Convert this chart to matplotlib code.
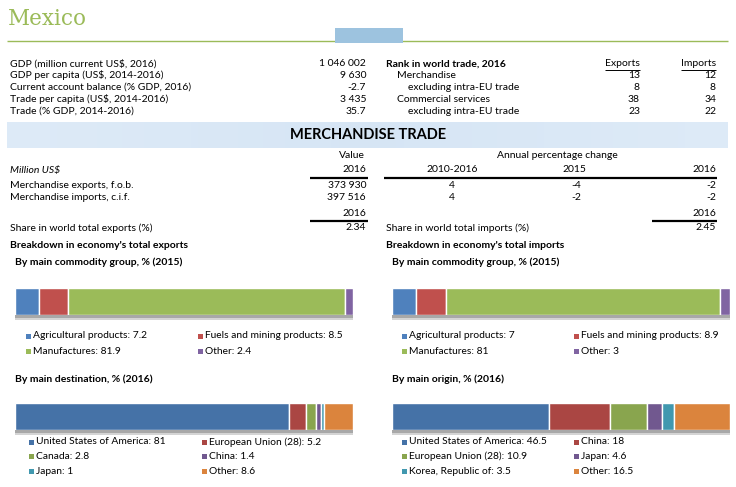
import matplotlib
matplotlib.use("Agg")
import matplotlib.pyplot as plt
from matplotlib.patches import Rectangle
import numpy as np

# ---------------- data ----------------
country = "Mexico"
gdp_labels = ["GDP (million current US$, 2016)", "GDP per capita (US$, 2014-2016)",
              "Current account balance (% GDP, 2016)", "Trade per capita (US$, 2014-2016)",
              "Trade (% GDP, 2014-2016)"]
gdp_values = ["1 046 002", "9 630", "-2.7", "3 435", "35.7"]

rank_labels = ["Merchandise", "excluding intra-EU trade", "Commercial services", "excluding intra-EU trade"]
rank_indent = [1, 2, 1, 2]
rank_exports = [13, 8, 38, 23]
rank_imports = [12, 8, 34, 22]

merch_labels = ["Merchandise exports, f.o.b.", "Merchandise imports, c.i.f."]
merch_value_2016 = ["373 930", "397 516"]
chg_2010_2016 = [4, 4]
chg_2015 = [-4, -2]
chg_2016 = [-2, -2]
share_exports = "2.34"
share_imports = "2.45"

exp_comm_labels = ["Agricultural products", "Fuels and mining products", "Manufactures", "Other"]
exp_comm_values = [7.2, 8.5, 81.9, 2.4]
imp_comm_labels = ["Agricultural products", "Fuels and mining products", "Manufactures", "Other"]
imp_comm_values = [7, 8.9, 81, 3]
dest_labels = ["United States of America", "European Union (28)", "Canada", "China", "Japan", "Other"]
dest_values = [81, 5.2, 2.8, 1.4, 1, 8.6]
orig_labels = ["United States of America", "China", "European Union (28)", "Japan", "Korea, Republic of", "Other"]
orig_values = [46.5, 18, 10.9, 4.6, 3.5, 16.5]

comm_colors = ["#4F81BD", "#C0504D", "#9BBB59", "#8064A2"]
part_colors = ["#4572A7", "#AA4643", "#89A54E", "#71588F", "#4198AF", "#DB843D"]

# ---------------- layout ----------------
W, H = 736, 487
FONT = "Lato"
plt.rcParams["font.family"] = [FONT, "DejaVu Sans"]

fig = plt.figure(figsize=(W / 100, H / 100), dpi=100)
ax = fig.add_axes([0, 0, 1, 1])
ax.set_xlim(0, W)
ax.set_ylim(H, 0)
ax.axis("off")

BS = 7.5  # body size


def T(x, y, s, ha="left", size=BS, weight="normal", style="normal", color="black", family=None):
    kw = {}
    if family:
        kw["family"] = family
    return ax.text(x, y, s, ha=ha, va="center", fontsize=size, fontweight=weight,
                   fontstyle=style, color=color, **kw)


def hline(x0, x1, y, lw=1.0, color="black"):
    ax.plot([x0, x1], [y, y], color=color, lw=lw, solid_capstyle="butt")


# title
ax.text(8, 19, country, ha="left", va="center", fontsize=15.5, color="#9BBB59",
        family=["DejaVu Serif"])
hline(7, 728, 40.5, lw=1.0, color="#9BBB59")
ax.add_patch(Rectangle((335, 28), 68, 15, facecolor="#9DC3DF", edgecolor="none", zorder=3))

# top-left table
ys = [64, 75.5, 87, 99, 111]
for y, lab, val in zip(ys, gdp_labels, gdp_values):
    T(10, y, lab)
    T(366, y, val, ha="right")

# rank table
T(386, ys[0], "Rank in world trade, 2016", weight="bold")
for xr, lab in [(640, "Exports"), (716, "Imports")]:
    T(xr, ys[0], lab, ha="right")
    hline(xr - 35, xr, ys[0] + 6, lw=0.7)
for y, lab, ind, e, i in zip(ys[1:], rank_labels, rank_indent, rank_exports, rank_imports):
    T(386 + 11 * ind, y, lab)
    T(640, y, str(e), ha="right")
    T(716, y, str(i), ha="right")

# header band
grad = np.linspace(0, 1, 200)
grad = 1 - 0.5 * np.abs(grad - 0.5) * 2
band = np.zeros((2, 200, 3))
c_mid = np.array([0.84, 0.90, 0.96])
c_edge = np.array([0.90, 0.94, 0.98])
for k in range(200):
    band[:, k, :] = c_edge + (c_mid - c_edge) * grad[k]
ax.imshow(band, extent=(7, 728, 148, 122), aspect="auto", zorder=0)
ax.set_xlim(0, W)
ax.set_ylim(H, 0)
T(368, 135, "MERCHANDISE TRADE", ha="center", size=10.5, weight="bold")

# merchandise table
T(352, 155, "Value", ha="center")
T(557, 155, "Annual percentage change", ha="center")
T(10, 170, "Million US$", style="italic")
T(366, 170, "2016", ha="right")
T(452, 170, "2010-2016", ha="center")
T(574, 170, "2015", ha="center")
T(716, 170, "2016", ha="right")
hline(310, 368, 177.5, lw=1.6)
hline(384, 717, 177.5, lw=1.6)
for y, lab, v, a, b, c in zip([185, 197], merch_labels, merch_value_2016, chg_2010_2016, chg_2015, chg_2016):
    T(10, y, lab)
    T(366, y, v, ha="right")
    T(452, y, str(a), ha="center")
    T(576, y, str(b), ha="center")
    T(716, y, str(c), ha="right")
T(366, 213, "2016", ha="right")
T(716, 213, "2016", ha="right")
hline(310, 368, 220.5, lw=1.6)
hline(652, 717, 220.5, lw=1.6)
T(10, 228, "Share in world total exports (%)")
T(366, 228, share_exports, ha="right")
T(386, 228, "Share in world total imports (%)")
T(716, 228, share_imports, ha="right")
T(10, 245, "Breakdown in economy's total exports", weight="bold")
T(386, 245, "Breakdown in economy's total imports", weight="bold")
T(15, 262, "By main commodity group, % (2015)", weight="bold")
T(392, 262, "By main commodity group, % (2015)", weight="bold")
T(15, 379, "By main destination, % (2016)", weight="bold")
T(392, 379, "By main origin, % (2016)", weight="bold")


def stacked_bar(x0, x1, y0, y1, values, colors):
    # shadow under bar
    ax.add_patch(Rectangle((x0, y1), x1 - x0, 2.5, facecolor="#A8A8A8", edgecolor="none"))
    ax.add_patch(Rectangle((x0, y1 + 2.5), x1 - x0, 2.0, facecolor="#D4D4D4", edgecolor="none"))
    bax = fig.add_axes([x0 / W, 1 - y1 / H, (x1 - x0) / W, (y1 - y0) / H])
    left = 0.0
    for v, c in zip(values, colors):
        bax.barh(0, v, left=left, height=1.0, color=c, edgecolor="white", linewidth=1.0)
        left += v
    bax.set_xlim(0, 100)
    bax.set_ylim(-0.5, 0.5)
    bax.axis("off")


def legend(xm1, xm2, y0, dy, labels, values, colors, size=7.4):
    for k, (lab, v, c) in enumerate(zip(labels, values, colors)):
        row, col = divmod(k, 2)
        xm = xm1 if col == 0 else xm2
        y = y0 + row * dy
        ax.add_patch(Rectangle((xm, y - 2.5), 5, 5, facecolor=c, edgecolor="none"))
        T(xm + 7, y, f"{lab}: {v:g}", size=size)


stacked_bar(15, 353, 288, 315, exp_comm_values, comm_colors)
stacked_bar(392, 730, 288, 315, imp_comm_values, comm_colors)
legend(26, 198, 336, 15, exp_comm_labels, exp_comm_values, comm_colors)
legend(402, 574, 336, 15, imp_comm_labels, imp_comm_values, comm_colors)

stacked_bar(15, 353, 403, 430, dest_values, part_colors)
stacked_bar(392, 730, 403, 430, orig_values, part_colors)
legend(29, 202, 442, 14.5, dest_labels, dest_values, part_colors)
legend(402, 574, 442, 14.5, orig_labels, orig_values, part_colors)

fig.savefig("out.png", dpi=100)
